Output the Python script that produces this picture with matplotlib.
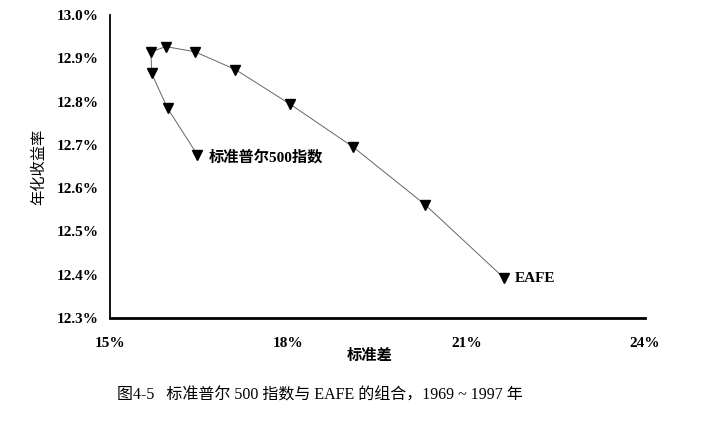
import numpy as np
import matplotlib
matplotlib.use("Agg")
import matplotlib.pyplot as plt
from matplotlib.ticker import FuncFormatter

plt.rcParams['font.family'] = ['Liberation Serif', 'Noto Sans CJK SC']

# portfolio path from 100% S&P 500 to 100% EAFE
std_dev = [16.47, 15.97, 15.70, 15.69, 15.94, 16.43, 17.11, 18.03, 19.09, 20.30, 21.63]
annual_return = [12.677, 12.784, 12.865, 12.915, 12.927, 12.915, 12.874, 12.794, 12.695, 12.562, 12.392]

x_ticks = [15, 18, 21, 24]
y_ticks = [12.3, 12.4, 12.5, 12.6, 12.7, 12.8, 12.9, 13.0]

fig = plt.figure(figsize=(7.26, 4.46), dpi=100)
ax = fig.add_axes([110/726, 1 - 318/446, 535/726, 303/446])

ax.plot(std_dev, annual_return, color='#666666', lw=0.7, marker='v',
        markersize=7, markerfacecolor='black', markeredgecolor='black')

ax.set_xlim(15, 24)
ax.set_ylim(12.3, 13.0)
ax.set_xticks(x_ticks)
ax.set_yticks(y_ticks)
ax.xaxis.set_major_formatter(FuncFormatter(lambda v, p: f"{v:.0f}%"))
ax.yaxis.set_major_formatter(FuncFormatter(lambda v, p: f"{v:.1f}%"))
ax.tick_params(length=0, labelsize=11, pad=8)
ax.tick_params(axis='x', pad=14)
for lab in ax.get_xticklabels() + ax.get_yticklabels():
    lab.set_fontweight('bold')

for s in ['top', 'right']:
    ax.spines[s].set_visible(False)
ax.spines['left'].set_linewidth(1.3)
ax.spines['bottom'].set_linewidth(2.0)

ax.annotate("标准普尔500指数", (std_dev[0], annual_return[0]), xytext=(8, -2),
            textcoords='offset points', ha='left', va='center',
            fontsize=11, fontweight='bold')
ax.annotate("EAFE", (std_dev[-1], annual_return[-1]), xytext=(8, 0),
            textcoords='offset points', ha='left', va='center',
            fontsize=11, fontweight='bold')

ax.set_ylabel("年化收益率", fontsize=11, labelpad=8)
fig.text(370/726, 1 - 356/446, "标准差", ha='center', va='center',
         fontsize=11, fontweight='bold')

fig.text(117/726, 1 - 396/446, "图4-5   标准普尔 500 指数与 EAFE 的组合，1969 ~ 1997 年",
         ha='left', va='center', fontsize=11.5)

fig.savefig("out.png", dpi=100)
